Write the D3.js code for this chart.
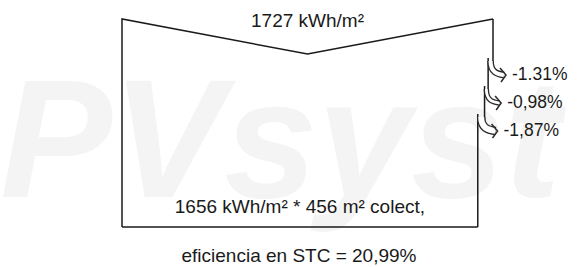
<!DOCTYPE html>
<html>
<head>
    <meta http-equiv="content-type" content="text/html; charset=utf-8" />
    <style>
        body { margin: 0; background: #fff; }
        text { font-family: "Liberation Sans", Arial, sans-serif; fill: #1a1a1a; }
    </style>
</head>
<body>
    <svg width="577" height="267"></svg>

    <script src="https://d3js.org/d3.v7.min.js"></script>
    <script>
        // datos del diagrama
        const incoming = 1727            // kWh/m² irradiación global
        const lossPct = [-1.31, -0.98, -1.87]
        const lossLabels = ['-1.31%', '-0,98%', '-1,87%']
        const topLabel = '1727 kWh/m²'
        const bottomLabel = '1656 kWh/m² * 456 m² colect,'
        const footLabel = 'eficiencia en STC = 20,99%'

        const svg = d3.select('svg')

        // marca de agua
        svg.append('text')
            .attr('x', 0).attr('y', 197)
            .style('font-size', '168px')
            .style('font-weight', 'bold')
            .style('font-style', 'italic')
            .style('fill', '#f4f4f4')
            .text('PVsyst V7')

        // valores acumulados tras cada pérdida
        const values = [incoming]
        lossPct.forEach(p => values.push(values[values.length - 1] * (1 + p / 100)))

        const x = d3.scaleLinear().domain([0, incoming]).range([122, 493])
        const yStep = d3.scalePoint().domain(lossLabels).range([61, 117])
        const yTop = 19, yV = 54, yBottom = 227

        const line = d3.line()
        const g = svg.append('g')
            .attr('fill', 'none')
            .attr('stroke', '#1a1a1a')
            .attr('stroke-width', 1.5)

        // borde superior en V + lado izquierdo + fondo
        g.append('path').attr('d', line([
            [x(0), yBottom], [x(0), yTop],
            [(x(0) + x(incoming)) / 2, yV],
            [x(incoming), yTop]
        ]))
        g.append('path').attr('d', line([[x(0), yBottom], [x(values[values.length - 1]), yBottom]]))

        // lado derecho escalonado
        lossLabels.forEach((l, i) => {
            const y0 = i === 0 ? yTop : yStep(lossLabels[i - 1]) - 3
            g.append('path').attr('d', line([[x(values[i]), y0], [x(values[i]), yStep(l) + 3]]))
        })
        g.append('path').attr('d', line([
            [x(values[values.length - 1]), yStep(lossLabels[lossLabels.length - 1]) - 3],
            [x(values[values.length - 1]), yBottom]
        ]))

        // flechas de pérdida
        lossLabels.forEach((l, i) => {
            const xo = x(values[i]), xi = x(values[i + 1])
            const xm = (xo + xi) / 2
            const y0 = yStep(l)
            const ex = xo + 11, ey = y0 + 14
            const d = `M${xm},${y0} C${xm},${ey - 2} ${ex - 6},${ey - 1} ${ex},${ey}`
            const w = Math.max(xo - xi, 3.5) + 1.8
            svg.append('path').attr('d', d).attr('fill', 'none')
                .attr('stroke', '#2a2a2a').attr('stroke-width', w)
            svg.append('path').attr('d', d).attr('fill', 'none')
                .attr('stroke', '#fff').attr('stroke-width', w - 2.6)
            svg.append('path')
                .attr('d', line([[ex - 4, ey - 7], [ex + 2, ey], [ex - 3, ey + 7]]))
                .attr('fill', 'none').attr('stroke', '#2a2a2a').attr('stroke-width', 1.5)
            svg.append('text')
                .attr('x', ex + 8).attr('y', ey + 5)
                .style('font-size', '17.5px')
                .text(l)
        })

        // textos
        svg.append('text')
            .attr('x', (x(0) + x(incoming)) / 2).attr('y', 27)
            .attr('text-anchor', 'middle')
            .style('font-size', '19px')
            .text(topLabel)
        svg.append('text')
            .attr('x', (x(0) + x(values[values.length - 1])) / 2).attr('y', 213)
            .attr('text-anchor', 'middle')
            .style('font-size', '19px')
            .text(bottomLabel)
        svg.append('text')
            .attr('x', 299).attr('y', 262)
            .attr('text-anchor', 'middle')
            .style('font-size', '19px')
            .text(footLabel)
    </script>
</body>
</html>
